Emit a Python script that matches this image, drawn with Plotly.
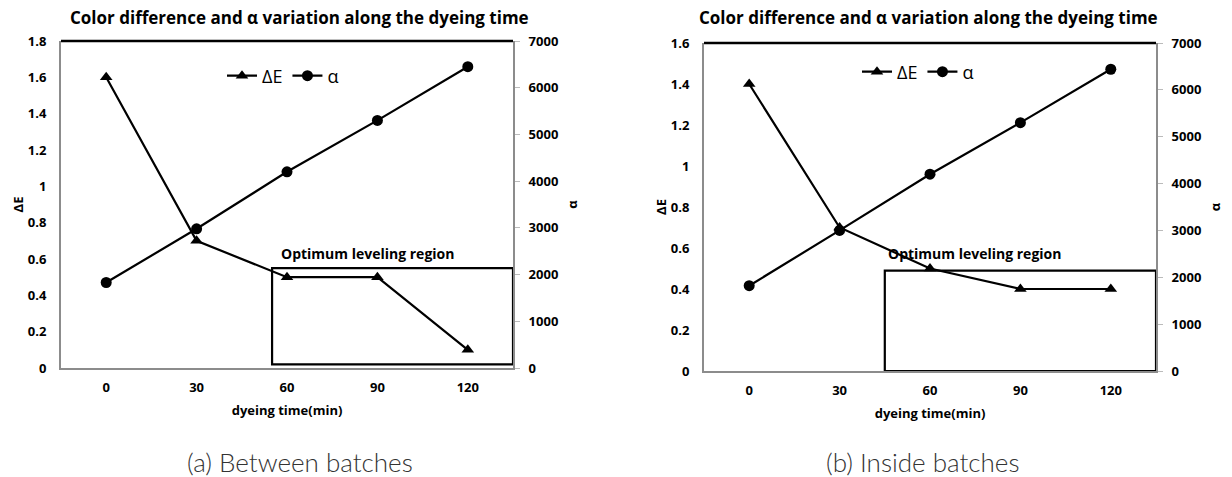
import plotly.graph_objects as go

W, H = 1232, 477

# ---- data ----
times = ["0", "30", "60", "90", "120"]
x_idx = [0, 1, 2, 3, 4]
dE_a = [1.6, 0.7, 0.5, 0.5, 0.1]
alpha_a = [1830, 2980, 4200, 5300, 6450]
dE_b = [1.4, 0.7, 0.5, 0.4, 0.4]
alpha_b = [1820, 3000, 4200, 5300, 6440]

title_text = "Color difference and α variation along the dyeing time"
box_label = "Optimum leveling region"
captions = ["(a) Between batches", "(b) Inside batches"]

# optimum region boxes (in axis units: category index, ΔE)
box_a = dict(x0=1.835, x1=4.5, y0=0.02, y1=0.55)
box_b = dict(x0=1.5, x1=4.5, y0=0.0, y1=0.49)

FONT = "Open Sans"
BOLD = dict(family=FONT, size=13, color="black", weight="bold")

def px(x):
    return x / W

def py(y):
    return 1 - y / H

# panel geometry (pixels)
pa = dict(l=61, r=513, t=41, b=368)
pb = dict(l=704, r=1156, t=43, b=371)

fig = go.Figure()

line = dict(color="black", width=2.2)
fig.add_trace(go.Scatter(x=x_idx, y=dE_a, name="ΔE", mode="lines+markers", line=line,
                         marker=dict(symbol="triangle-up", size=11, color="black"),
                         xaxis="x", yaxis="y", legend="legend"))
fig.add_trace(go.Scatter(x=x_idx, y=alpha_a, name="α", mode="lines+markers", line=line,
                         marker=dict(symbol="circle", size=11, color="black"),
                         xaxis="x", yaxis="y2", legend="legend"))
fig.add_trace(go.Scatter(x=x_idx, y=dE_b, name="ΔE", mode="lines+markers", line=line,
                         marker=dict(symbol="triangle-up", size=11, color="black"),
                         xaxis="x2", yaxis="y3", legend="legend2"))
fig.add_trace(go.Scatter(x=x_idx, y=alpha_b, name="α", mode="lines+markers", line=line,
                         marker=dict(symbol="circle", size=11, color="black"),
                         xaxis="x2", yaxis="y4", legend="legend2"))

gray = "#8c8c8c"

def xaxis(p, anchor):
    return dict(domain=[px(p["l"]), px(p["r"])], anchor=anchor, range=[-0.5, 4.5],
                tickvals=x_idx, ticktext=times, showgrid=False, zeroline=False,
                showline=True, linecolor=gray, linewidth=2, ticks="", automargin=False,
                tickfont=BOLD, ticklabelstandoff=6,
                title=dict(text="dyeing time(min)", font=BOLD, standoff=11))

def yleft(p, anchor, rng, dt):
    return dict(domain=[py(p["b"]), py(p["t"])], anchor=anchor, range=rng, dtick=dt,
                showgrid=False, zeroline=False, showline=True, linecolor=gray, linewidth=2,
                ticks="", tickfont=BOLD, ticklabelstandoff=10, automargin=False,
                title=dict(text="ΔE", font=BOLD, standoff=1))

def yright(overlay, anchor):
    return dict(overlaying=overlay, anchor=anchor, side="right", range=[0, 7000], dtick=1000,
                showgrid=False, zeroline=False, showline=True, linecolor=gray, linewidth=2,
                ticks="outside", ticklen=5, tickcolor="#bbbbbb", tickfont=BOLD,
                ticklabelstandoff=6, automargin=False,
                title=dict(text="α", font=BOLD, standoff=11))

fig.update_layout(
    width=W, height=H, margin=dict(l=0, r=0, t=0, b=0, autoexpand=False),
    paper_bgcolor="white", plot_bgcolor="white",
    font=dict(family=FONT, color="black"),
    xaxis=xaxis(pa, "y"),
    yaxis=yleft(pa, "x", [0, 1.8], 0.2),
    yaxis2=yright("y", "x"),
    xaxis2=xaxis(pb, "y3"),
    yaxis3=yleft(pb, "x2", [0, 1.6], 0.2),
    yaxis4=yright("y3", "x2"),
    legend=dict(x=px(222), y=py(76), xanchor="left", yanchor="middle", orientation="h",
                font=dict(family=FONT, size=18, color="black"), bgcolor="rgba(0,0,0,0)",
                itemwidth=30, tracegroupgap=0),
    legend2=dict(x=px(857), y=py(72), xanchor="left", yanchor="middle", orientation="h",
                 font=dict(family=FONT, size=18, color="black"), bgcolor="rgba(0,0,0,0)",
                 itemwidth=30, tracegroupgap=0),
    showlegend=True,
)

# top black border lines
for p in (pa, pb):
    fig.add_shape(type="line", xref="paper", yref="paper", x0=px(p["l"]), x1=px(p["r"]),
                  y0=py(p["t"]), y1=py(p["t"]), line=dict(color="black", width=2.5))

# optimum boxes
fig.add_shape(type="rect", xref="x", yref="y", **box_a, line=dict(color="black", width=2.2))
fig.add_shape(type="rect", xref="x2", yref="y3", **box_b, line=dict(color="black", width=2.2))

# box labels
fig.add_annotation(x=px(279), y=py(254), xref="paper", yref="paper", text=box_label,
                   showarrow=False, xanchor="left", yanchor="middle",
                   font=dict(family=FONT, size=14, color="black", weight="bold"))
fig.add_annotation(x=px(886), y=py(254), xref="paper", yref="paper", text=box_label,
                   showarrow=False, xanchor="left", yanchor="middle",
                   font=dict(family=FONT, size=14, color="black", weight="bold"))

# titles
for cx in (299, 928):
    fig.add_annotation(x=px(cx), y=py(18), xref="paper", yref="paper", text=title_text,
                       showarrow=False, xanchor="center", yanchor="middle",
                       font=dict(family=FONT, size=17, color="black", weight="bold"))

# captions
for cx, cap in zip((300, 922), captions):
    fig.add_annotation(x=px(cx), y=py(462), xref="paper", yref="paper", text=cap,
                       showarrow=False, xanchor="center", yanchor="middle",
                       font=dict(family="Lato", size=26, color="#333333", weight=300))

fig.write_html("out.html")
